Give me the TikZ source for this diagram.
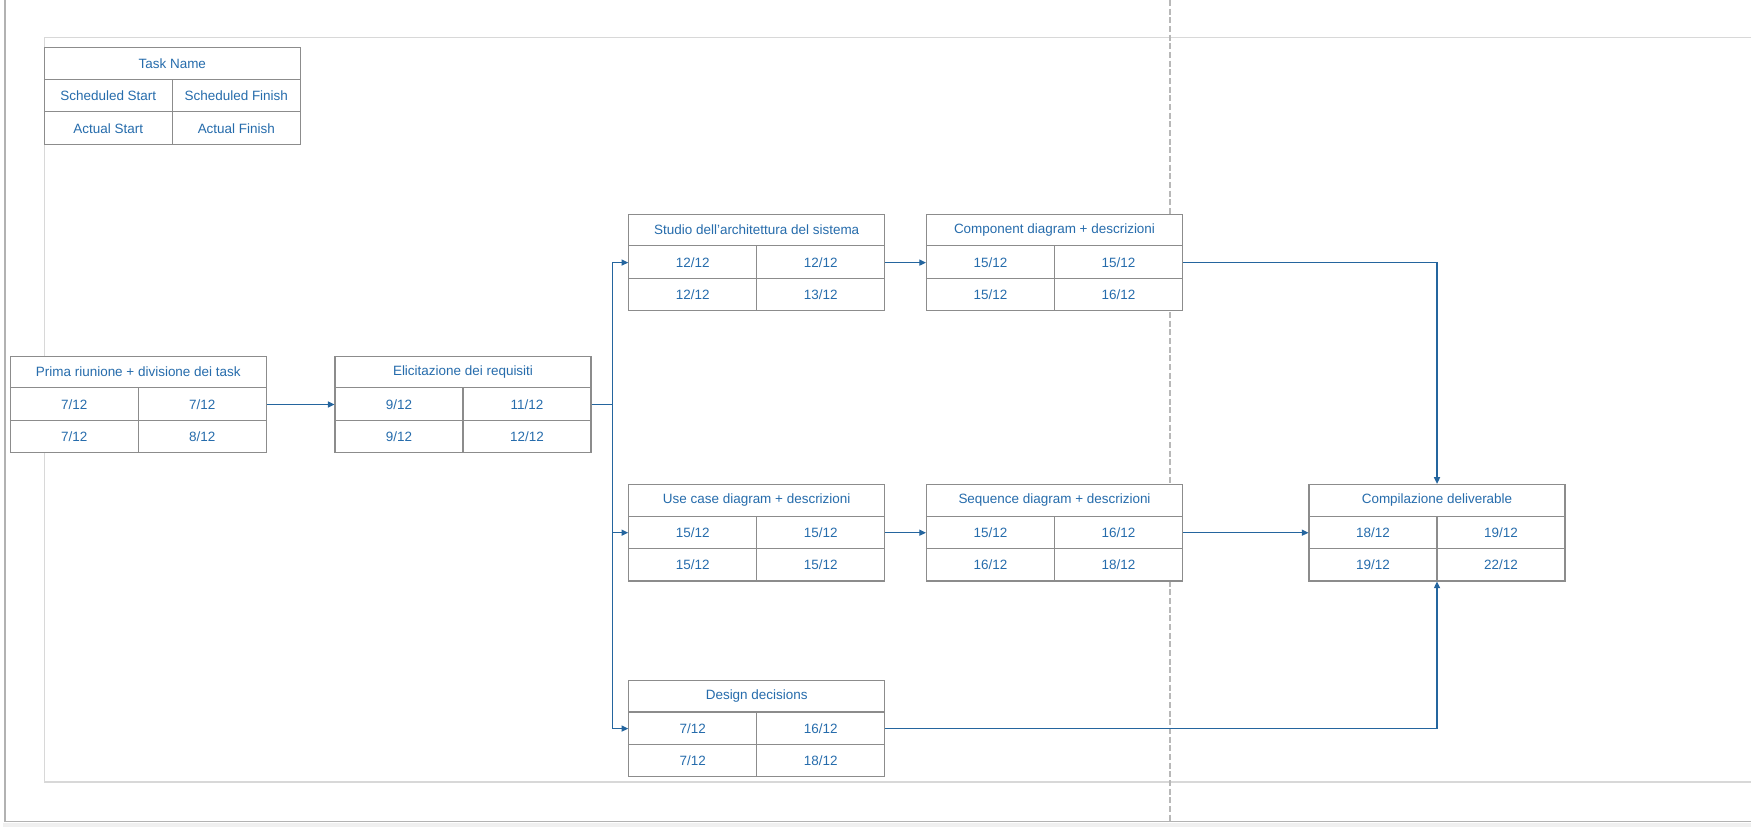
\documentclass[tikz,border=0pt]{standalone}
\usepackage{fontspec}
\setmainfont{Liberation Sans}
\usetikzlibrary{arrows.meta,calc}

\definecolor{txtblue}{RGB}{38,108,172}
\definecolor{linkblue}{RGB}{36,101,158}
\definecolor{boxgray}{RGB}{140,140,140}
\definecolor{framegray}{RGB}{216,216,216}
\definecolor{pagegray}{RGB}{178,178,178}
\definecolor{dashgray}{RGB}{184,184,184}

\tikzset{
  tbox/.style={draw=boxgray, fill=white, line width=0.8pt,
    minimum width=192pt, minimum height=72.45pt, inner sep=0pt},
  cellline/.style={draw=boxgray, line width=0.8pt},
  celltext/.style={text=txtblue, inner sep=0pt,
    font=\fontsize{10.1pt}{12pt}\selectfont},
  conn/.style={draw=linkblue, line width=0.85pt,
    -{Triangle[length=5pt,width=4.6pt]}},
  link/.style={draw=linkblue, line width=0.85pt},
}

% #1 name, #2 centre, #3 title, #4 sched. start, #5 sched. finish,
% #6 actual start, #7 actual finish
\newcommand\taskbox[7]{%
  \node[tbox] (#1) at (#2) {};
  \draw[cellline] ($(#1.north west)+(0pt,-24.15pt)$) -- ($(#1.north east)+(0pt,-24.15pt)$);
  \draw[cellline] ($(#1.north west)+(0pt,-48.3pt)$) -- ($(#1.north east)+(0pt,-48.3pt)$);
  \draw[cellline] ($(#1.north)+(0pt,-24.15pt)$) -- (#1.south);
  \node[celltext] (#1-t) at ($(#1.north)+(0pt,-12.075pt)$) {#3};
  \node[celltext] (#1-ss) at ($(#1.center)+(-48pt,0pt)$) {#4};
  \node[celltext] (#1-sf) at ($(#1.center)+(48pt,0pt)$) {#5};
  \node[celltext] (#1-as) at ($(#1.center)+(-48pt,-24.15pt)$) {#6};
  \node[celltext] (#1-af) at ($(#1.center)+(48pt,-24.15pt)$) {#7};
}

\begin{document}
\begin{tikzpicture}[x=0.75pt,y=-0.75pt]
\useasboundingbox (0,0) rectangle (1751,834);

% page edge with its soft shadow
\fill[black!6] (3,823) rectangle (1751,827);
\draw[pagegray, line width=1.4pt] (5,0) -- (5,821.5) -- (1751,821.5);

% inner drawing frame
\draw[framegray, line width=0.9pt] (1751,37.3) -- (44.3,37.3) -- (44.3,782) -- (1751,782);

% page break marker
\draw[dashgray, line width=0.9pt, dash pattern=on 4.5pt off 2pt] (1170,0) -- (1170,821);

% legend
\taskbox{legend}{172.3,96}{Task Name}{Scheduled Start}{Scheduled Finish}{Actual Start}{Actual Finish}

% tasks
\taskbox{prima}{138.3,404.5}{Prima riunione + divisione dei task}{7/12}{7/12}{7/12}{8/12}
\taskbox{elic}{463,404.5}{Elicitazione dei requisiti}{9/12}{11/12}{9/12}{12/12}
\taskbox{studio}{756.7,262.6}{Studio dell'architettura del sistema}{12/12}{12/12}{12/12}{13/12}
\taskbox{component}{1054.5,262.6}{Component diagram + descrizioni}{15/12}{15/12}{15/12}{16/12}
\taskbox{usecase}{756.7,532.7}{Use case diagram + descrizioni}{15/12}{15/12}{15/12}{15/12}
\taskbox{sequence}{1054.5,532.7}{Sequence diagram + descrizioni}{15/12}{16/12}{16/12}{18/12}
\taskbox{design}{756.7,728.6}{Design decisions}{7/12}{16/12}{7/12}{18/12}
\taskbox{compil}{1437,532.7}{Compilazione deliverable}{18/12}{19/12}{19/12}{22/12}

% dependencies
\coordinate (split) at ($(elic.east)+(15.5pt,0pt)$);
\draw[conn] (prima.east) -- (elic.west);
\draw[link] (elic.east) -- (split);
\draw[conn] (split) |- (studio.west);
\draw[conn] (split) |- (usecase.west);
\draw[conn] (split) |- (design.west);
\draw[conn] (studio.east) -- (component.west);
\draw[conn] (usecase.east) -- (sequence.west);
\draw[conn] (sequence.east) -- (compil.west);
\draw[conn] (component.east) -| (compil.north);
\draw[conn] (design.east) -| (compil.south);
\end{tikzpicture}
\end{document}
